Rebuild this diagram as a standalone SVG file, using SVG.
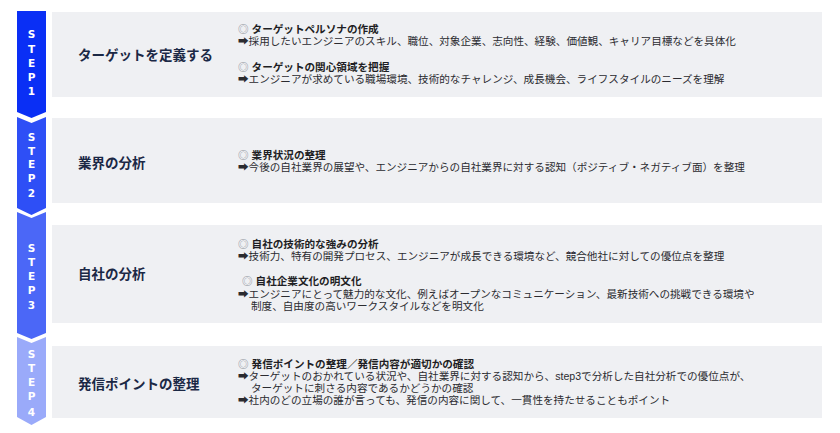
<svg xmlns="http://www.w3.org/2000/svg" width="840" height="433" viewBox="0 0 840 433">
<style>
.panel{fill:#eff0f3}
.step{font-family:"DejaVu Sans","Noto Sans",sans-serif;font-weight:bold;font-size:10.5px;fill:#ffffff;text-anchor:middle}
.title{font-family:"Noto Sans CJK JP","Noto Sans",sans-serif;font-weight:bold;font-size:13.5px;fill:#1b2845}
.h{font-family:"Liberation Sans","Noto Sans CJK JP","DejaVu Sans",sans-serif;font-weight:bold;font-size:10.6px;fill:#1e1e24}
.b{font-family:"Liberation Sans","Noto Sans CJK JP","DejaVu Sans",sans-serif;font-size:10.6px;fill:#2b2b30}
.mk{fill:#8a8d96;font-weight:normal}
</style>
<rect width="840" height="433" fill="#ffffff"/>
<g id="step1">
<rect class="panel" x="52" y="12" width="770" height="85"/>
<path d="M17,11 H46 V112 L31.5,118 L17,112 Z" fill="#0a2ff5"/>
<text class="step" x="31.5" y="38">S</text><text class="step" x="31.5" y="52.5">T</text><text class="step" x="31.5" y="66.5">E</text><text class="step" x="31.5" y="80.5">P</text><text class="step" x="31.5" y="94.5">1</text>
<text class="title" x="78" y="60">ターゲットを定義する</text>
<text class="h" x="238" y="33"><tspan class="mk">◎</tspan> ターゲットペルソナの作成</text>
<text class="b" x="238" y="45">➡採用したいエンジニアのスキル、職位、対象企業、志向性、経験、価値観、キャリア目標などを具体化</text>
<text class="h" x="238" y="71"><tspan class="mk">◎</tspan> ターゲットの関心領域を把握</text>
<text class="b" x="238" y="83">➡エンジニアが求めている職場環境、技術的なチャレンジ、成長機会、ライフスタイルのニーズを理解</text>
</g>
<g id="step2">
<rect class="panel" x="52" y="118" width="770" height="85"/>
<path d="M17,117 L31.5,123 L46,117 V208 L31.5,215 L17,208 Z" fill="#2e4ff6"/>
<text class="step" x="31.5" y="141">S</text><text class="step" x="31.5" y="154.5">T</text><text class="step" x="31.5" y="168">E</text><text class="step" x="31.5" y="182">P</text><text class="step" x="31.5" y="197">2</text>
<text class="title" x="78" y="168">業界の分析</text>
<text class="h" x="238" y="159"><tspan class="mk">◎</tspan> 業界状況の整理</text>
<text class="b" x="238" y="171">➡今後の自社業界の展望や、エンジニアからの自社業界に対する認知（ポジティブ・ネガティブ面）を整理</text>
</g>
<g id="step3">
<rect class="panel" x="52" y="225" width="770" height="98"/>
<path d="M17,212 L31.5,218 L46,212 V333 L31.5,339 L17,333 Z" fill="#4b67f7"/>
<text class="step" x="31.5" y="252">S</text><text class="step" x="31.5" y="266">T</text><text class="step" x="31.5" y="280">E</text><text class="step" x="31.5" y="294">P</text><text class="step" x="31.5" y="309">3</text>
<text class="title" x="78" y="279">自社の分析</text>
<text class="h" x="238" y="248"><tspan class="mk">◎</tspan> 自社の技術的な強みの分析</text>
<text class="b" x="238" y="260">➡技術力、特有の開発プロセス、エンジニアが成長できる環境など、競合他社に対しての優位点を整理</text>
<text class="h" x="242" y="285"><tspan class="mk">◎</tspan> 自社企業文化の明文化</text>
<text class="b" x="238" y="297.5">➡エンジニアにとって魅力的な文化、例えばオープンなコミュニケーション、最新技術への挑戦できる環境や</text>
<text class="b" x="251" y="309.5">制度、自由度の高いワークスタイルなどを明文化</text>
</g>
<g id="step4">
<rect class="panel" x="52" y="346" width="770" height="72"/>
<path d="M17,337 L31.5,343 L46,337 V417 L31.5,425 L17,417 Z" fill="#9aaafa"/>
<text class="step" x="31.5" y="358">S</text><text class="step" x="31.5" y="372">T</text><text class="step" x="31.5" y="386">E</text><text class="step" x="31.5" y="400">P</text><text class="step" x="31.5" y="416">4</text>
<text class="title" x="78" y="389">発信ポイントの整理</text>
<text class="h" x="238" y="367.5"><tspan class="mk">◎</tspan> 発信ポイントの整理／発信内容が適切かの確認</text>
<text class="b" x="238" y="379.5">➡ターゲットのおかれている状況や、自社業界に対する認知から、step3で分析した自社分析での優位点が、</text>
<text class="b" x="251" y="391.5">ターゲットに刺さる内容であるかどうかの確認</text>
<text class="b" x="238" y="404">➡社内のどの立場の誰が言っても、発信の内容に関して、一貫性を持たせることもポイント</text>
</g>
<g id="connectors"></g>
</svg>
